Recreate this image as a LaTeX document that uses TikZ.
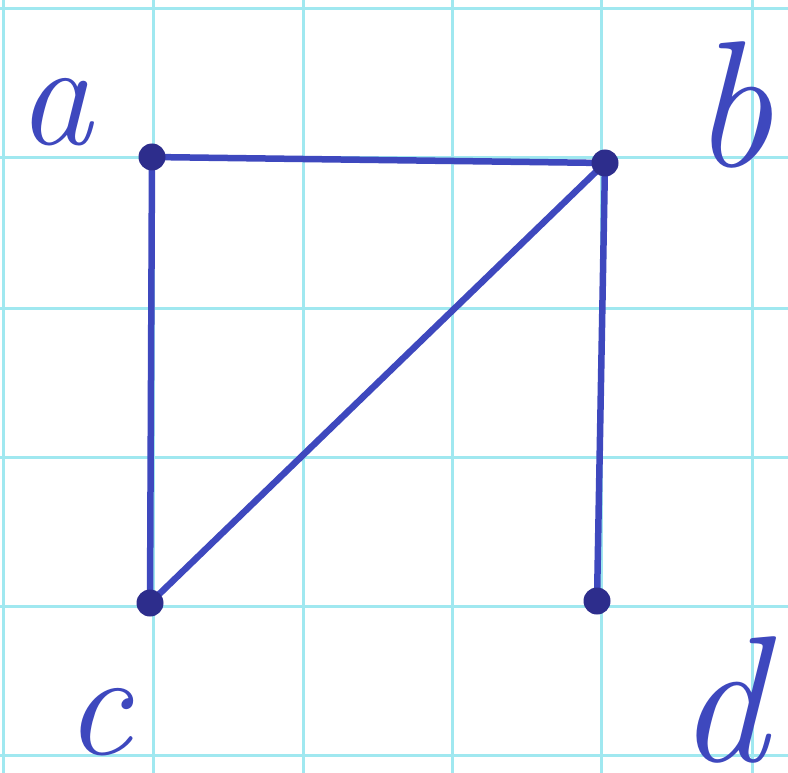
\documentclass[tikz,border=0pt]{standalone}
\definecolor{gridcyan}{RGB}{160,232,240}
\definecolor{ink}{RGB}{62,72,190}
\definecolor{dotink}{RGB}{45,45,140}
\tikzset{
  gridline/.style={draw=gridcyan, line width=3pt},
  edge/.style={draw=ink, line width=6.5pt, line cap=round},
  vertex/.style={circle, fill=dotink, inner sep=0pt, minimum size=27pt},
  small/.style={text=ink, font=\fontsize{150}{150}\selectfont\itshape, inner sep=0pt},
  tall/.style={text=ink, font=\fontsize{180}{180}\selectfont\itshape, inner sep=0pt}
}
\begin{document}
\begin{tikzpicture}[x=1pt,y=-1pt]
\useasboundingbox (0,0) rectangle (788,773);
\fill[white] (0,0) rectangle (788,773);
\foreach \gx in {3,153,303,452,601,752} {\draw[gridline] (\gx,0) -- (\gx,773);}
\foreach \gy in {9,158,308,457,606,755} {\draw[gridline] (0,\gy) -- (788,\gy);}
\coordinate (a) at (152,157);
\coordinate (b) at (605,163);
\coordinate (c) at (150,603);
\coordinate (d) at (597,601);
\draw[edge] (a) -- (b);
\draw[edge] (a) -- (c);
\draw[edge] (b) -- (c);
\draw[edge] (b) -- (d);
\node[vertex] (va) at (a) {};
\node[vertex] (vb) at (b) {};
\node[vertex] (vc) at (c) {};
\node[vertex] (vd) at (d) {};
\node[small] (la) at (55,112) {a};
\node[tall] (lb) at (732,105) {b};
\node[small] (lc) at (98,722) {c};
\node[tall] (ld) at (722,700) {d};
\end{tikzpicture}
\end{document}
